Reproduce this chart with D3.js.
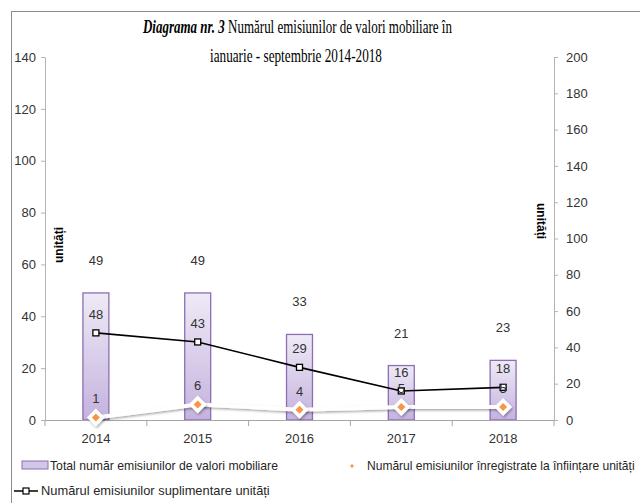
<!DOCTYPE html>
<html>
<head>
<meta charset="utf-8">
<script src="https://cdn.jsdelivr.net/npm/d3@7"></script>
<style>
  body { margin: 0; background: #fff; }
  text { font-family: "Liberation Sans", Arial, sans-serif; }
</style>
</head>
<body>
<div id="chart"></div>
<script>
// Chart data
const years = ["2014", "2015", "2016", "2017", "2018"];
const totalEmisiuni = [49, 49, 33, 21, 23];
const emisiuniSuplimentare = [48, 43, 29, 16, 18];
const emisiuniInfiintare = [1, 6, 4, 5, 5];
const leftTicks = [0, 20, 40, 60, 80, 100, 120, 140];
const rightTicks = [0, 20, 40, 60, 80, 100, 120, 140, 160, 180, 200];

// Svg size
const svgWidth = 640;
const svgHeight = 503;

// Plot area
const plot = { left: 45, right: 554, top: 57, bottom: 420 };

const svg = d3.select("#chart")
              .append("svg")
              .attr("width", svgWidth)
              .attr("height", svgHeight);

// Gradient and shadow
const defs = svg.append("defs");
const grad = defs.append("linearGradient")
                 .attr("id", "barGrad")
                 .attr("x1", 0).attr("y1", 0).attr("x2", 0).attr("y2", 1);
grad.append("stop").attr("offset", "0%").attr("stop-color", "#efeaf6");
grad.append("stop").attr("offset", "100%").attr("stop-color", "#c4b2de");

const shadow = defs.append("filter").attr("id", "shadow")
                   .attr("x", "-50%").attr("y", "-50%").attr("width", "200%").attr("height", "200%");
shadow.append("feDropShadow").attr("dx", 1).attr("dy", 1.5).attr("stdDeviation", 1.2)
      .attr("flood-color", "#000").attr("flood-opacity", 0.35);

// Frame
svg.append("rect")
   .attr("x", 11.5).attr("y", 11.5)
   .attr("width", 700).attr("height", 600)
   .attr("fill", "none")
   .attr("stroke", "#8c8c8c");

// Squeeze a text horizontally so it spans the wanted width
function squeeze(textSel, x, y, width) {
    const w = textSel.node().getComputedTextLength();
    textSel.attr("x", 0).attr("y", 0)
           .attr("transform", `translate(${x}, ${y}) scale(${width / w}, 1)`);
}

// Scales
const xScale = d3.scaleBand().domain(years).range([plot.left, plot.right]);
const yLeft = d3.scaleLinear().domain([0, 140]).range([plot.bottom, plot.top]);
const yRight = d3.scaleLinear().domain([0, 200]).range([plot.bottom, plot.top]);
const cx = d => xScale(d) + xScale.bandwidth() / 2;
const barWidth = xScale.bandwidth() * 0.255;

// Left axis
const leftAxis = svg.append("g")
                    .attr("transform", `translate(${plot.left}, 0)`)
                    .call(d3.axisLeft(yLeft).tickValues(leftTicks).tickSize(4).tickSizeOuter(0).tickPadding(5));

// Right axis
const rightAxis = svg.append("g")
                     .attr("transform", `translate(${plot.right}, 0)`)
                     .call(d3.axisRight(yRight).tickValues(rightTicks).tickSize(4).tickSizeOuter(0).tickPadding(8));

[leftAxis, rightAxis].forEach(a => {
    a.selectAll("path, line").attr("stroke", "#b3b3b3");
    a.selectAll("text").attr("font-size", 13).attr("fill", "#333")
     .attr("font-family", "'Liberation Sans', Arial, sans-serif");
});

// Bars
svg.append("g")
   .selectAll("rect")
   .data(years)
   .enter()
   .append("rect")
   .attr("x", d => cx(d) - barWidth / 2)
   .attr("y", (d, i) => yLeft(totalEmisiuni[i]))
   .attr("width", barWidth)
   .attr("height", (d, i) => plot.bottom - yLeft(totalEmisiuni[i]))
   .attr("fill", "url(#barGrad)")
   .attr("stroke", "#8a6fb3")
   .attr("stroke-width", 1.3);

// X axis line and boundary ticks
const xAxis = svg.append("g")
                 .attr("transform", `translate(0, ${plot.bottom})`)
                 .call(d3.axisBottom(xScale).tickSize(0).tickPadding(14));
xAxis.select(".domain").attr("stroke", "#a6a6a6");
xAxis.selectAll("text").attr("font-size", 13).attr("fill", "#333")
     .attr("font-family", "'Liberation Sans', Arial, sans-serif");
xAxis.selectAll(".bound")
     .data(years.map(d => xScale(d)).concat([xScale.range()[1]]))
     .enter()
     .append("line")
     .attr("class", "bound")
     .attr("x1", d => d).attr("x2", d => d)
     .attr("y1", 0).attr("y2", 6)
     .attr("stroke", "#a6a6a6");

// Orange series (left axis) - white line with shadow
const lineLeft = d3.line()
                   .x((d, i) => cx(years[i]))
                   .y(d => yLeft(d));
svg.append("path")
   .datum(emisiuniInfiintare)
   .attr("d", lineLeft)
   .attr("fill", "none")
   .attr("stroke", "#ffffff")
   .attr("stroke-width", 4)
   .attr("filter", "url(#shadow)");

const diamond = (s) => `M0,${-s} L${s},0 L0,${s} L${-s},0 Z`;
const orangeMarks = svg.append("g")
                       .selectAll("g")
                       .data(emisiuniInfiintare)
                       .enter()
                       .append("g")
                       .attr("transform", (d, i) => `translate(${cx(years[i])}, ${yLeft(d)})`);
orangeMarks.append("path").attr("d", diamond(9)).attr("fill", "#fff").attr("filter", "url(#shadow)");
orangeMarks.append("path").attr("d", diamond(4)).attr("fill", "#f79646");

// Black series (right axis)
const lineRight = d3.line()
                    .x((d, i) => cx(years[i]))
                    .y(d => yRight(d));
svg.append("path")
   .datum(emisiuniSuplimentare)
   .attr("d", lineRight)
   .attr("fill", "none")
   .attr("stroke", "#000")
   .attr("stroke-width", 1.6);

svg.append("g")
   .selectAll("rect")
   .data(emisiuniSuplimentare)
   .enter()
   .append("rect")
   .attr("x", (d, i) => cx(years[i]) - 3)
   .attr("y", d => yRight(d) - 3)
   .attr("width", 6).attr("height", 6)
   .attr("fill", "#fff")
   .attr("stroke", "#000")
   .attr("stroke-width", 1.3);

// Data labels
const labelStyle = sel => sel.attr("font-size", 13).attr("fill", "#333").attr("text-anchor", "middle");

svg.append("g").selectAll("text")
   .data(totalEmisiuni).enter().append("text")
   .attr("x", (d, i) => cx(years[i]))
   .attr("y", d => yLeft(d) - 28)
   .text(d => d)
   .call(labelStyle);

svg.append("g").selectAll("text")
   .data(emisiuniSuplimentare).enter().append("text")
   .attr("x", (d, i) => cx(years[i]))
   .attr("y", d => yRight(d) - 14)
   .text(d => d)
   .call(labelStyle);

svg.append("g").selectAll("text")
   .data(emisiuniInfiintare).enter().append("text")
   .attr("x", (d, i) => cx(years[i]))
   .attr("y", d => yLeft(d) - 14)
   .text(d => d)
   .call(labelStyle);

// Axis titles
svg.append("text")
   .attr("transform", "translate(63, 245) rotate(-90)")
   .attr("text-anchor", "middle")
   .attr("font-size", 12)
   .attr("font-weight", "bold")
   .text("unități");

svg.append("text")
   .attr("transform", "translate(537, 221) rotate(90)")
   .attr("text-anchor", "middle")
   .attr("font-size", 12)
   .attr("font-weight", "bold")
   .text("unități");

// Title
const title1 = svg.append("text")
                  .attr("font-size", 19)
                  .style("font-family", "'Liberation Serif', serif");
title1.append("tspan").attr("font-style", "italic").attr("font-weight", "bold").text("Diagrama nr. 3");
title1.append("tspan").text(" Numărul emisiunilor de valori mobiliare  în");
squeeze(title1, 143, 33, 309);

const title2 = svg.append("text")
                  .attr("font-size", 19)
                  .style("font-family", "'Liberation Serif', serif")
                  .text("ianuarie - septembrie  2014-2018");
squeeze(title2, 210, 62, 172);

// Legend
const legend = svg.append("g").attr("font-size", 13).attr("fill", "#262626");

legend.append("rect")
      .attr("x", 22).attr("y", 461).attr("width", 26).attr("height", 8)
      .attr("fill", "#d3c7e8").attr("stroke", "#8a6fb3");
squeeze(legend.append("text").text("Total număr emisiunilor de valori mobiliare"), 50, 470, 228);

legend.append("path")
      .attr("d", diamond(2)).attr("transform", "translate(352, 466)")
      .attr("fill", "#f79646");
squeeze(legend.append("text").text("Numărul emisiunilor înregistrate la înființare unități"), 367, 470, 268);

legend.append("line")
      .attr("x1", 14).attr("x2", 38).attr("y1", 491).attr("y2", 491)
      .attr("stroke", "#000").attr("stroke-width", 1.5);
legend.append("rect")
      .attr("x", 23).attr("y", 488).attr("width", 6).attr("height", 6)
      .attr("fill", "#fff").attr("stroke", "#000").attr("stroke-width", 1.2);
squeeze(legend.append("text").text("Numărul emisiunilor suplimentare unități"), 41, 495, 229);
</script>
</body>
</html>
